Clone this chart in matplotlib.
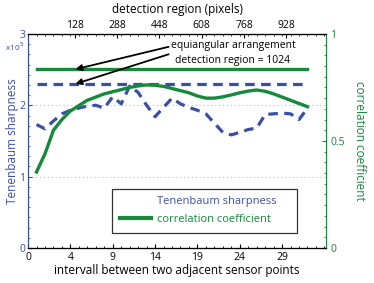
import matplotlib
matplotlib.use('Agg')
import matplotlib.pyplot as plt
from matplotlib.lines import Line2D
from matplotlib.ticker import MultipleLocator
import numpy as np

plt.rcParams['font.family'] = ['Open Sans', 'DejaVu Sans']

BLUE = '#3a50a6'
GREEN = '#16893a'

# data
interval = np.arange(1, 34)
sharpness = [1.73, 1.67, 1.78, 1.88, 1.93, 1.96, 1.99, 2.0, 1.96, 2.12, 2.02,
             2.27, 2.18, 2.0, 1.84, 1.97, 2.1, 2.02, 1.97, 1.93, 1.88, 1.75,
             1.62, 1.585, 1.62, 1.66, 1.68, 1.87, 1.88, 1.89, 1.88, 1.8, 1.96]
correlation = [0.355, 0.44, 0.55, 0.60, 0.64, 0.665, 0.69, 0.705, 0.72, 0.73,
               0.74, 0.75, 0.757, 0.762, 0.76, 0.755, 0.745, 0.735, 0.725,
               0.71, 0.70, 0.70, 0.706, 0.715, 0.725, 0.733, 0.738, 0.732,
               0.72, 0.705, 0.69, 0.675, 0.66]
sharpness_equi = 2.30
correlation_equi = 0.835

bottom_ticks = [0, 5, 10, 15, 20, 25, 30]
bottom_labels = ['0', '4', '9', '14', '19', '24', '29']
top_labels = [128, 288, 448, 608, 768, 928]

fig = plt.figure(figsize=(3.74, 2.83), dpi=100)
ax = fig.add_axes([0.075, 0.124, 0.797, 0.756])
ax2 = ax.twinx()
axt = ax.twiny()

# left axis: sharpness
ax.plot(interval, sharpness, color=BLUE, lw=2.3, dashes=(3.0, 2.0))
ax.plot([interval[0], interval[-1]], [sharpness_equi] * 2, color=BLUE,
        lw=2.3, dashes=(3.0, 2.0))
ax.set_ylim(0, 3)
ax.set_xlim(0, 35.2)
ax.set_yticks([0, 1, 2, 3])
ax.yaxis.set_minor_locator(MultipleLocator(0.1428))
ax.set_xticks(bottom_ticks)
ax.set_xticklabels(bottom_labels)
ax.xaxis.set_minor_locator(MultipleLocator(1))
for y in [1, 2]:
    ax.axhline(y, color='#b8bcd0', lw=0.8, ls=(0, (1, 2.5)), zorder=0)
ax.tick_params(axis='y', colors=BLUE, labelsize=7.5, direction='in', length=3, pad=2)
ax.tick_params(axis='y', which='minor', colors=BLUE, direction='in', length=1.5)
ax.tick_params(axis='x', labelsize=7.5, direction='in', length=3, pad=3)
ax.tick_params(axis='x', which='minor', direction='in', length=1.5)
ax.set_ylabel('Tenenbaum sharpness', color=BLUE, fontsize=8.5, labelpad=0)
ax.set_xlabel('intervall between two adjacent sensor points', fontsize=8.5, labelpad=1)
ax.text(-0.012, 0.94, 'x10$^5$', transform=ax.transAxes, color=BLUE,
        fontsize=6, ha='right', va='center')
ax.spines['left'].set_color(BLUE)
ax.spines['right'].set_visible(False)

# right axis: correlation
ax2.plot(interval, correlation, color=GREEN, lw=2.4)
ax2.plot([interval[0], interval[-1]], [correlation_equi] * 2, color=GREEN, lw=2.4)
ax2.set_ylim(0, 1)
ax2.set_yticks([0, 0.5, 1])
ax2.set_yticklabels(['0', '0.5', '1'])
ax2.yaxis.set_minor_locator(MultipleLocator(0.05))
ax2.tick_params(axis='y', colors=GREEN, labelsize=7.5, direction='in', length=3, pad=3)
ax2.tick_params(axis='y', which='minor', colors=GREEN, direction='in', length=1.5)
ax2.set_ylabel('correlation coefficient', color=GREEN, fontsize=8.5,
               rotation=-90, labelpad=15)
ax2.spines['right'].set_color(GREEN)
ax2.spines['left'].set_color(BLUE)

# top axis
axt.set_xlim(ax.get_xlim())
axt.set_xticks([v / 32 + 1.5 for v in top_labels])
axt.set_xticklabels([str(v) for v in top_labels])
axt.xaxis.set_minor_locator(MultipleLocator(1))
axt.tick_params(axis='x', labelsize=7.5, direction='in', length=3, pad=2)
axt.tick_params(axis='x', which='minor', direction='in', length=1.5)
axt.set_xlabel('detection region (pixels)', fontsize=8.5, labelpad=5)
axt.spines['right'].set_visible(False)
axt.spines['left'].set_visible(False)

# annotation
ax2.text(24.2, 0.945, 'equiangular arrangement', ha='center', va='center', fontsize=7.5)
ax2.text(24.2, 0.878, 'detection region = 1024', ha='center', va='center', fontsize=7.5)
arrow = dict(arrowstyle='-|>', color='black', lw=1.3, mutation_scale=9,
             shrinkA=0, shrinkB=0)
ax2.annotate('', xy=(5.6, correlation_equi), xytext=(16.6, 0.94), arrowprops=arrow)
ax2.annotate('', xy=(5.6, (sharpness_equi / 3)), xytext=(16.6, 0.905), arrowprops=arrow)

# legend
handles = [Line2D([], [], color=BLUE, lw=0, alpha=0),
           Line2D([], [], color=GREEN, lw=3)]
leg = ax2.legend(handles, ['Tenenbaum sharpness', 'correlation coefficient'],
                 loc='lower left', bbox_to_anchor=(0.283, 0.07, 0.62, 0.215),
                 mode='expand', borderaxespad=0, fontsize=8, frameon=True,
                 fancybox=False, edgecolor='black', handlelength=2.8,
                 handletextpad=0.5, borderpad=0.7, labelspacing=0.6)
leg.get_frame().set_linewidth(0.9)
leg.get_texts()[0].set_color(BLUE)
leg.get_texts()[1].set_color(GREEN)

fig.savefig('out.png', dpi=100)
